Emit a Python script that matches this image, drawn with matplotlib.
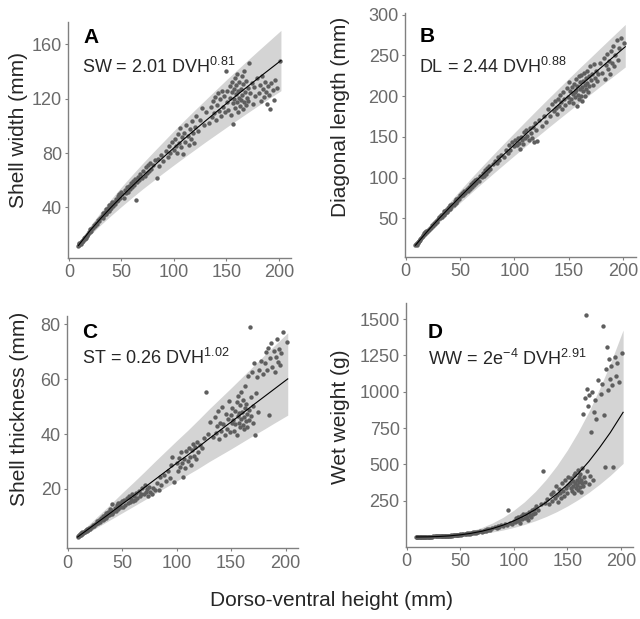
import matplotlib
matplotlib.use("Agg")
import matplotlib.pyplot as plt


W, H = 640, 619

# dorso-ventral height of each shell (mm), shared by all four panels
DVH = [
    9, 9.5, 10, 10, 11, 11.5, 12, 12.5, 13, 13.5, 14, 15, 15.5, 16, 17, 17.5, 18, 19, 20, 20.5,
    21, 22, 23, 24, 25, 26, 27, 28, 29, 30,
    31, 32, 32.5, 33, 34, 35, 35.5, 36, 37, 38, 38.5, 39, 40, 40.5, 41, 42, 43, 44, 45, 46,
    46.5, 47, 48, 49, 50,
    51, 52, 53, 54, 55, 56, 57, 58, 59, 60, 61, 62, 63, 64, 65, 66, 67, 68, 70, 71,
    72, 73, 74, 75, 76, 77, 78, 80,
    82, 84, 85, 86, 88, 90, 92, 94, 95, 96, 98, 100,
    101, 102, 103, 104, 105, 106, 107, 108, 109, 110, 111, 112, 113, 114, 115, 116, 117, 118, 119, 120,
    121, 123, 125, 127, 129,
    131, 133, 135, 136, 137, 138, 139, 140, 141, 142, 143, 144, 145, 146, 147, 148, 149, 150, 150.5, 151,
    152, 153, 153.5, 154, 155, 155.5, 156, 156.5, 157, 157.5, 158, 158.5, 159, 159.5, 160, 160.5, 161, 161.5, 162, 162.5,
    163, 163.5, 164, 164.5, 165, 165.5, 166, 166.5, 167, 168, 168.5, 169, 170, 170.5, 171, 172, 173, 174, 175, 176,
    177, 179,
    181, 182, 183, 184, 185, 186, 187, 188, 189, 190, 191, 192, 193, 194, 195, 196, 198, 201,
]

SW = [
    11.5, 12.8, 12.0, 13.8, 14.5, 13.2, 15.0, 14.3, 16.2, 15.1, 17.3, 17.0, 18.4, 17.6, 19.8, 18.9, 20.5, 21.8, 22.0, 23.9,
    22.9, 25.0, 24.6, 27.0, 26.5, 28.8, 27.9, 30.4, 29.7, 32.5,
    33.5, 31.8, 35.9, 34.0, 36.5, 34.9, 38.6, 36.8, 39.5, 37.4, 41.8, 38.9, 42.5, 39.6, 44.2, 40.8, 43.9, 42.1, 46.0, 44.3,
    48.5, 45.5, 49.6, 47.0, 51.2,
    49.5, 47.2, 52.8, 50.3, 54.6, 51.4, 55.9, 53.2, 57.8, 55.0, 59.5, 56.1, 60.8, 45.5, 58.5, 62.4, 60.1, 64.5, 61.9, 66.8,
    63.4, 69.5, 65.2, 70.8, 67.0, 72.4, 68.3, 71.5,
    74.8, 61.5, 75.5, 70.2, 78.9, 74.0, 81.5, 77.2, 85.5, 80.3, 88.4, 82.0,
    90.5, 85.2, 80.1, 93.8, 87.4, 98.2, 84.3, 91.6, 79.5, 95.0, 88.2, 100.5, 92.4, 85.8, 97.6, 90.2, 103.5, 94.8, 87.6, 99.2,
    107.0, 96.5, 104.2, 113.5, 100.8,
    110.5, 102.4, 114.2, 106.8, 118.5, 109.2, 121.0, 104.5, 115.6, 124.2, 110.8, 119.5, 107.3, 126.0, 114.0, 121.8, 110.2, 140.5, 117.6, 125.5,
    112.0, 129.5, 120.4, 108.2, 124.8, 132.6, 116.5, 101.5, 127.0, 119.8, 135.2, 112.8, 123.4, 129.8, 117.2, 138.0, 110.5, 125.6, 120.2, 132.0,
    114.8, 127.4, 119.0, 136.4, 122.5, 112.2, 130.5, 117.8, 140.5, 124.6, 115.5, 133.2, 120.8, 127.8, 118.0, 146.5, 124.0, 131.5, 116.2, 128.5,
    122.0, 135.0,
    124.5, 130.2, 118.4, 136.8, 127.0, 121.6, 132.5, 125.2, 116.0, 129.4, 123.0, 112.5, 131.8, 126.2, 118.8, 133.5, 127.6, 147.5,
]

DL = [
    16.8, 18.2, 17.5, 19.6, 20.3, 19.8, 22.5, 21.9, 24.6, 23.8, 26.0, 27.2, 29.3, 28.6, 31.5, 30.4, 33.2, 34.0, 33.5, 36.2,
    35.0, 37.8, 38.4, 41.2, 40.5, 43.6, 43.0, 46.5, 45.8, 49.5,
    51.2, 49.8, 53.9, 52.0, 55.6, 54.4, 58.5, 56.0, 59.8, 58.2, 62.6, 60.5, 64.0, 61.2, 66.5, 63.8, 67.9, 66.1, 71.2, 68.9,
    73.5, 70.8, 75.2, 73.6, 78.5,
    76.8, 80.6, 78.4, 83.5, 80.9, 86.2, 83.4, 88.9, 86.0, 91.5, 88.7, 94.2, 91.0, 96.8, 93.5, 98.6, 96.2, 102.4, 100.5, 106.0,
    101.8, 108.9, 104.6, 111.2, 107.5, 114.0, 110.6, 117.2,
    120.5, 118.2, 124.8, 121.0, 127.2, 125.5, 133.5, 129.8, 139.5, 134.2, 143.8, 138.5,
    146.2, 139.8, 148.5, 143.0, 135.6, 150.2, 145.8, 141.0, 155.6, 149.0, 158.2, 151.5, 146.4, 160.8, 154.2, 148.6, 162.5, 143.5, 166.8, 158.4,
    145.2, 170.5, 163.8, 176.2, 168.5,
    184.5, 175.2, 190.0, 181.4, 194.6, 185.8, 178.0, 196.5, 188.2, 201.8, 192.4, 184.6, 205.0, 196.2, 189.5, 210.5, 199.0, 217.5, 193.2, 205.8,
    196.5, 210.8, 202.5, 191.8, 215.4, 205.2, 198.6, 220.5, 208.0, 187.5, 212.8, 202.0, 224.2, 196.8, 208.6, 217.0, 200.2, 226.5, 211.8, 193.5,
    219.2, 206.4, 228.0, 213.5, 199.6, 221.8, 209.2, 231.4, 216.0, 205.5, 224.6, 212.4, 236.5, 219.8, 227.5, 214.2, 239.0, 222.6, 231.0, 218.5,
    226.8, 240.5,
    228.5, 246.8, 221.0, 238.2, 252.0, 233.5, 243.6, 227.4, 255.5, 240.2, 262.0, 236.8, 250.4, 268.5, 244.0, 258.6, 272.0, 265.5,
]

ST = [
    2.6, 3.0, 2.8, 3.3, 3.1, 3.6, 3.4, 3.9, 3.7, 4.2, 3.9, 4.5, 4.8, 4.4, 5.1, 4.8, 5.5, 5.2, 5.9, 5.6,
    6.3, 6.0, 6.8, 6.5, 7.4, 7.1, 8.2, 7.6, 8.8, 8.1,
    9.3, 8.6, 10.2, 9.1, 10.5, 9.6, 11.3, 10.0, 11.8, 10.4, 12.6, 11.0, 12.2, 10.8, 14.5, 11.6, 13.0, 12.1, 14.2, 12.6,
    15.0, 13.3, 14.8, 13.6, 15.5,
    13.5, 15.9, 14.2, 16.8, 14.8, 17.5, 15.2, 16.3, 18.2, 15.8, 17.4, 16.1, 18.6, 16.8, 19.2, 17.3, 18.0, 20.3, 18.2, 21.5,
    18.8, 19.9, 17.6, 20.6, 19.0, 18.1, 20.2, 19.5,
    22.0, 19.8, 24.2, 21.3, 25.2, 23.0, 26.5, 24.0, 28.6, 31.8, 22.5, 29.5,
    26.4, 31.2, 28.0, 33.5, 29.6, 24.5, 31.0, 27.8, 33.8, 30.2, 35.0, 31.6, 28.6, 34.2, 36.5, 32.0, 35.4, 30.8, 37.2, 33.5,
    36.0, 34.8, 38.5, 55.5, 40.2,
    44.5, 39.0, 46.2, 40.5, 42.8, 48.5, 38.2, 44.0, 41.2, 50.0, 43.5, 39.6, 47.2, 42.0, 45.5, 52.2, 40.8, 46.8, 44.0, 49.5,
    45.2, 41.0, 48.4, 43.8, 51.5, 39.5, 46.5, 53.8, 44.2, 47.8, 42.5, 50.5, 45.6, 55.2, 48.0, 43.4, 52.4, 46.2, 41.8, 49.6,
    57.5, 44.8, 51.0, 47.2, 42.6, 61.0, 48.8, 45.0, 79.0, 53.5, 46.5, 62.5, 50.2, 44.0, 66.0, 39.5, 54.8, 60.8, 48.2, 63.2,
    66.5, 62.0,
    66.0, 69.8, 63.2, 71.5, 47.0, 67.8, 73.2, 64.5, 70.2, 62.5, 68.0, 74.6, 66.4, 71.0, 65.0, 69.5, 77.0, 73.5,
]

WW = [
    0.2, 0.3, 0.2, 0.4, 0.3, 0.5, 0.4, 0.6, 0.5, 0.7, 0.8, 0.9, 1.1, 1.0, 1.3, 1.2, 1.6, 1.5, 2.0, 1.8,
    2.3, 2.4, 2.9, 3.1, 3.6, 3.9, 4.6, 4.8, 5.5, 5.2,
    4.5, 4.0, 5.6, 5.0, 6.2, 5.5, 7.3, 6.6, 8.0, 7.2, 9.1, 8.4, 9.5, 8.6, 11.2, 9.8, 12.0, 11.0, 13.8, 12.5,
    15.4, 13.6, 16.2, 14.8, 17.5,
    16.8, 19.5, 17.9, 21.8, 19.6, 24.2, 21.5, 26.8, 23.4, 28.5, 25.2, 31.0, 27.4, 33.6, 30.1, 36.8, 32.5, 40.2, 37.0, 44.5,
    39.6, 48.2, 42.0, 52.5, 46.4, 55.8, 50.2, 58.5,
    68.0, 62.5, 76.5, 70.2, 82.0, 75.5, 92.6, 84.0, 185.0, 98.5, 88.2, 112.5,
    105.0, 128.5, 112.0, 138.2, 118.6, 99.5, 142.0, 125.4, 155.2, 132.8, 160.5, 140.2, 118.5, 172.0, 150.6, 135.8, 182.5, 158.4, 196.0, 168.2,
    210.5, 185.0, 225.6, 455.0, 236.5,
    262.0, 228.5, 295.0, 248.2, 310.5, 270.4, 352.0, 285.6, 240.2, 330.0, 300.8, 265.5, 368.5, 318.2, 284.0, 392.6, 335.4, 300.5, 410.2, 355.8,
    372.0, 335.5, 405.2, 318.6, 388.0, 350.4, 425.8, 305.2, 368.6, 442.0, 338.2, 395.0, 360.8, 462.5, 325.4, 410.6, 378.2, 345.0, 430.4, 392.8,
    312.0, 370.5, 478.0, 352.6, 845.0, 412.5, 960.0, 380.0, 1525.0, 1020.0, 455.8, 905.0, 365.4, 975.0, 420.5, 720.0, 1000.0, 395.2, 860.0, 940.0,
    810.0, 1080.0,
    985.0, 1055.0, 1450.0, 840.0, 480.0, 1160.0, 1310.0, 1010.0, 1225.0, 1090.0, 1180.0, 1045.0, 485.0, 1240.0, 1110.0, 1200.0, 1070.0, 1270.0,
]

# fitted curve and prediction band, read along the x axis
FIT_X = [9, 20, 30, 40, 50, 60, 70, 80, 90, 100, 110, 120, 130, 140, 150, 160, 170, 180, 190, 202]

SW_FIT = [11.9, 22.8, 31.6, 39.9, 47.8, 55.4, 62.8, 69.9, 76.9, 83.8, 90.5, 97.1, 103.6, 110.0, 116.4, 122.6, 128.8, 134.9, 140.9, 148.1]
SW_HI = [13.7, 26.2, 36.3, 45.9, 55.0, 63.7, 72.2, 80.4, 88.4, 96.4, 104.1, 111.7, 119.1, 126.5, 133.9, 141.0, 148.1, 155.1, 162.0, 170.3]
SW_LO = [10.1, 19.4, 26.9, 33.9, 40.6, 47.1, 53.4, 59.4, 65.4, 71.2, 76.9, 82.5, 88.1, 93.5, 98.9, 104.2, 109.5, 114.7, 119.8, 125.9]

DL_FIT = [16.9, 34.1, 48.7, 62.7, 76.3, 89.6, 102.6, 115.4, 128.0, 140.4, 152.7, 164.9, 176.9, 188.8, 200.6, 212.4, 223.9, 235.5, 247.0, 260.7]
DL_HI = [18.7, 37.7, 53.8, 69.3, 84.3, 99.0, 113.4, 127.5, 141.4, 155.1, 168.7, 182.2, 195.5, 208.6, 221.7, 234.7, 247.4, 260.2, 272.9, 288.1]
DL_LO = [15.3, 30.9, 44.1, 56.7, 69.1, 81.1, 92.9, 104.4, 115.8, 127.1, 138.2, 149.2, 160.1, 170.9, 181.5, 192.2, 202.6, 213.1, 223.5, 235.9]

ST_FIT = [2.5, 5.7, 8.6, 11.5, 14.5, 17.4, 20.4, 23.4, 26.4, 29.4, 32.3, 35.3, 38.4, 41.4, 44.4, 47.4, 50.5, 53.5, 56.5, 60.1]
ST_HI = [3.2, 7.3, 11.0, 14.7, 18.6, 22.3, 26.1, 30.0, 33.8, 37.6, 41.3, 45.2, 49.2, 53.0, 56.8, 60.7, 64.6, 68.5, 72.3, 76.9]
ST_LO = [2.0, 4.4, 6.7, 9.0, 11.3, 13.6, 15.9, 18.3, 20.6, 22.9, 25.2, 27.5, 30.0, 32.3, 34.6, 37.0, 39.4, 41.7, 44.1, 46.9]

WW_FIT = [0.1, 1.0, 3.3, 7.7, 14.8, 25.1, 39.3, 58.0, 81.6, 111.0, 146.3, 188.7, 237.9, 295.2, 361.0, 435.8, 519.6, 614.9, 718.5, 858.5]
WW_HI = [0.2, 1.7, 5.5, 12.8, 24.6, 41.7, 65.2, 96.3, 135.5, 184.3, 242.9, 313.2, 394.9, 490.0, 599.3, 723.4, 862.5, 1020.7, 1192.7, 1425.1]
WW_LO = [0.1, 0.6, 1.9, 4.5, 8.7, 14.8, 23.2, 34.2, 48.1, 65.5, 86.3, 111.3, 140.4, 174.2, 213.0, 257.1, 306.6, 362.8, 423.9, 506.5]

X_TICKS = [0, 50, 100, 150, 200]

POINT_COLOR = "#5e5e5e"
BAND_COLOR = "#d4d4d4"
AXIS_COLOR = "#808080"
TICK_TEXT = "#6a6a6a"
LABEL_TEXT = "#262626"


def px_rect(left, top, right, bottom):
    return [left / W, 1 - bottom / H, (right - left) / W, (bottom - top) / H]


def fig_xy(x, y):
    return x / W, 1 - y / H


PANELS = [
    {
        "letter": "A", "y": SW, "fit": SW_FIT, "lo": SW_LO, "hi": SW_HI,
        "rect": (68.3, 21.7, 291, 257.7), "xlim": (-0.65, 211.6), "ylim": (2.9, 176.7),
        "yticks": [40, 80, 120, 160], "ylabel": "Shell width (mm)", "ylabel_xy": (19, 130),
        "letter_xy": (83, 43), "eq_xy": (82, 73), "eq": r"SW = 2.01 DVH$^{0.81}$",
    },
    {
        "letter": "B", "y": DL, "fit": DL_FIT, "lo": DL_LO, "hi": DL_HI,
        "rect": (405, 13.3, 635.7, 256.7), "xlim": (-0.65, 211.6), "ylim": (2.8, 301.8),
        "yticks": [50, 100, 150, 200, 250, 300], "ylabel": "Diagonal length (mm)", "ylabel_xy": (340, 117),
        "letter_xy": (420, 42), "eq_xy": (419, 73), "eq": r"DL = 2.44 DVH$^{0.88}$",
    },
    {
        "letter": "C", "y": ST, "fit": ST_FIT, "lo": ST_LO, "hi": ST_HI,
        "rect": (67, 316, 298.2, 548.3), "xlim": (-0.65, 211.6), "ylim": (-1.6, 83.0),
        "yticks": [20, 40, 60, 80], "ylabel": "Shell thickness (mm)", "ylabel_xy": (20, 409),
        "letter_xy": (82, 338), "eq_xy": (82, 364), "eq": r"ST = 0.26 DVH$^{1.02}$",
    },
    {
        "letter": "D", "y": WW, "fit": WW_FIT, "lo": WW_LO, "hi": WW_HI,
        "rect": (406, 303.3, 633.4, 546.7), "xlim": (-0.65, 211.6), "ylim": (-67, 1609),
        "yticks": [250, 500, 750, 1000, 1250, 1500], "ylabel": "Wet weight (g)", "ylabel_xy": (340, 417),
        "letter_xy": (428, 338), "eq_xy": (428, 365), "eq": r"WW = 2e$^{-4}$ DVH$^{2.91}$",
    },
]


def style_axes(ax, panel):
    for side in ["top", "right"]:
        ax.spines[side].set_visible(False)
    for side in ["left", "bottom"]:
        ax.spines[side].set_color(AXIS_COLOR)
        ax.spines[side].set_linewidth(1.0)
    ax.tick_params(direction="out", length=2.5, width=0.8, color=AXIS_COLOR,
                   labelcolor=TICK_TEXT, labelsize=13, pad=2)
    ax.set_xlim(*panel["xlim"])
    ax.set_ylim(*panel["ylim"])
    ax.set_xticks(X_TICKS)
    ax.set_yticks(panel["yticks"])


def draw_panel(fig, panel):
    ax = fig.add_axes(px_rect(*panel["rect"]))
    ax.fill_between(FIT_X, panel["lo"], panel["hi"], color=BAND_COLOR, linewidth=0, zorder=1)
    ax.scatter(DVH, panel["y"], s=10, color=POINT_COLOR, linewidths=0, zorder=2)
    ax.plot(FIT_X, panel["fit"], color="black", linewidth=0.8, zorder=3)
    style_axes(ax, panel)

    x, y = fig_xy(*panel["letter_xy"])
    fig.text(x, y, panel["letter"], fontsize=15, fontweight="bold", color="black", va="baseline")
    x, y = fig_xy(*panel["eq_xy"])
    fig.text(x, y, panel["eq"], fontsize=13, color=LABEL_TEXT, va="baseline")
    x, y = fig_xy(*panel["ylabel_xy"])
    fig.text(x, y, panel["ylabel"], fontsize=15, color=LABEL_TEXT, rotation=90,
             ha="center", va="center")
    return ax


def main():
    plt.rcParams.update({
        "font.family": ["Liberation Sans", "DejaVu Sans"],
        "mathtext.fontset": "custom",
        "mathtext.rm": "Liberation Sans",
        "mathtext.it": "Liberation Sans:italic",
        "mathtext.bf": "Liberation Sans:bold",
        "axes.unicode_minus": False,
    })

    fig = plt.figure(figsize=(W / 100, H / 100), dpi=100)
    for panel in PANELS:
        draw_panel(fig, panel)

    x, y = fig_xy(331, 600)
    fig.text(x, y, "Dorso-ventral height (mm)", fontsize=15, color=LABEL_TEXT,
             ha="center", va="center")

    fig.savefig("out.png", dpi=100, facecolor="white")
    plt.close(fig)


if __name__ == "__main__":
    main()
